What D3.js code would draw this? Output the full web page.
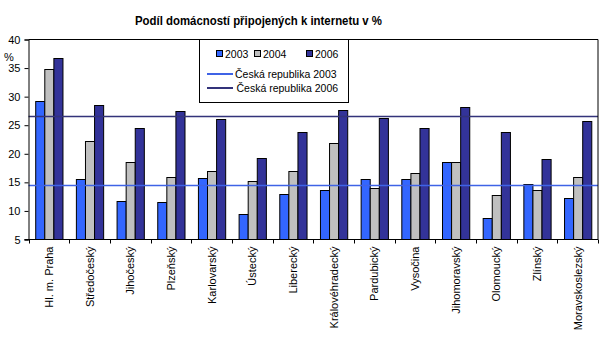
<!DOCTYPE html>
<html>
<head>
<meta charset="utf-8">
<script src="https://cdn.jsdelivr.net/npm/d3@7"></script>
<style>
  html, body { margin: 0; padding: 0; background: #fff; }
  svg { display: block; font-family: "Liberation Sans", Arial, sans-serif; }
</style>
</head>
<body>
<svg id="chart" width="605" height="339"></svg>
<script>
const categories = ["Hl. m. Praha", "Středočeský", "Jihočeský", "Plzeňský", "Karlovarský", "Ústecký", "Liberecký", "Královéhradecký", "Pardubický", "Vysočina", "Jihomoravský", "Olomoucký", "Zlínský", "Moravskoslezský"];
const seriesNames = ["2003", "2004", "2006"];
const values2003 = [29.3, 15.5, 11.8, 11.6, 15.8, 9.5, 13.0, 13.7, 15.6, 15.6, 18.6, 8.8, 14.8, 12.3];
const values2004 = [34.8, 22.3, 18.6, 16.0, 17.0, 15.3, 17.0, 21.9, 14.1, 16.7, 18.6, 12.8, 13.7, 16.0];
const values2006 = [36.7, 28.6, 24.5, 27.5, 26.1, 19.3, 23.9, 27.7, 26.3, 24.5, 28.2, 23.9, 19.1, 25.8];
const refNames = ["Česká republika 2003", "Česká republika 2006"];
const refValues = [14.6, 26.7];
const yTicks = [5, 10, 15, 20, 25, 30, 35, 40];
const title = "Podíl domácností připojených k internetu v %";
const yUnit = "%";

const colors = ["#3366FF", "#C0C0C0", "#333399"];
const refColors = ["#3F63E6", "#33337A"];

const svg = d3.select("#chart");
const m = { left: 28.5, right: 598, top: 39.5, bottom: 239.5 };

const x0 = d3.scaleBand().domain(categories).range([m.left, m.right]).paddingInner(0.33).paddingOuter(0.165);
const x1 = d3.scaleBand().domain(seriesNames).range([0, x0.bandwidth()]).padding(0);
const y = d3.scaleLinear().domain([5, 40]).range([m.bottom, m.top]);

const data = categories.map((c, i) => ({ cat: c, vals: [values2003[i], values2004[i], values2006[i]] }));

// Title
svg.append("text").attr("x", 135).attr("y", 25)
  .attr("font-size", 13).attr("font-weight", "bold").attr("fill", "#000")
  .attr("textLength", 247).attr("lengthAdjust", "spacingAndGlyphs").text(title);

// Bars
const g = svg.append("g");
g.selectAll("g.cat").data(data).join("g").attr("class", "cat")
  .attr("transform", d => `translate(${x0(d.cat)},0)`)
  .selectAll("rect").data(d => d.vals.map((v, k) => ({ v, k })))
  .join("rect")
  .attr("x", d => x1(seriesNames[d.k]) + 0.5)
  .attr("width", x1.bandwidth())
  .attr("y", d => Math.round(y(d.v)) + 0.5)
  .attr("height", d => m.bottom - Math.round(y(d.v)) - 0.5)
  .attr("fill", d => colors[d.k])
  .attr("stroke", "#000").attr("stroke-width", 1);

// Reference lines
refValues.forEach((v, i) => {
  svg.append("line").attr("x1", m.left).attr("x2", m.right)
    .attr("y1", Math.round(y(v)) + 0.5).attr("y2", Math.round(y(v)) + 0.5)
    .attr("stroke", refColors[i]).attr("stroke-width", 1.3);
});

// Frame top/right
svg.append("line").attr("x1", m.left).attr("x2", m.right).attr("y1", m.top).attr("y2", m.top).attr("stroke", "#000");
svg.append("line").attr("x1", m.right).attr("x2", m.right).attr("y1", m.top).attr("y2", m.bottom).attr("stroke", "#000");

// Y axis
const yAxis = d3.axisLeft(y).tickValues(yTicks).tickSize(4).tickPadding(3).tickFormat(d3.format("d"));
const ya = svg.append("g").attr("transform", `translate(${m.left},0)`).call(yAxis);
ya.select(".domain").attr("stroke", "#000");
ya.selectAll("text").attr("font-size", 11).attr("font-family", "Liberation Sans, Arial, sans-serif").attr("fill", "#000").attr("x", -8);
ya.selectAll("line").attr("stroke", "#000");
svg.append("text").attr("x", 4).attr("y", 61).attr("font-size", 11).attr("fill", "#000").text(yUnit);

// X axis
const xa = svg.append("g").attr("transform", `translate(0,${m.bottom})`);
xa.append("line").attr("x1", m.left - 4).attr("x2", m.right).attr("y1", 0).attr("y2", 0).attr("stroke", "#000");
const boundaries = d3.range(categories.length + 1).map(i => m.left + i * (m.right - m.left) / categories.length);
xa.selectAll("line.tk").data(boundaries).join("line").attr("class", "tk")
  .attr("x1", d => Math.round(d) + 0.5).attr("x2", d => Math.round(d) + 0.5).attr("y1", 0).attr("y2", 4).attr("stroke", "#000");
xa.selectAll("text").data(categories).join("text")
  .attr("transform", d => `translate(${x0(d) + x0.bandwidth() / 2 + 4},7) rotate(-90)`)
  .attr("text-anchor", "end").attr("font-size", 11).attr("fill", "#000").text(d => d);

// Legend
const lg = svg.append("g");
lg.append("rect").attr("x", 199.5).attr("y", m.top).attr("width", 149).attr("height", 63)
  .attr("fill", "#fff").attr("stroke", "#000");
const leg1 = [216, 254, 306];
seriesNames.forEach((s, i) => {
  lg.append("rect").attr("x", leg1[i] + 0.5).attr("y", 50.5).attr("width", 6).attr("height", 6)
    .attr("fill", colors[i]).attr("stroke", "#000");
  lg.append("text").attr("x", leg1[i] + 9).attr("y", 58).attr("font-size", 10.5).attr("fill", "#000").text(s);
});
refNames.forEach((s, i) => {
  const yy = 74 + i * 14;
  lg.append("line").attr("x1", 207).attr("x2", 233).attr("y1", yy).attr("y2", yy)
    .attr("stroke", refColors[i]).attr("stroke-width", 2);
  lg.append("text").attr("x", 235 + i * 1.5).attr("y", yy + 4).attr("font-size", 10.5).attr("fill", "#000").text(s);
});
</script>
</body>
</html>
